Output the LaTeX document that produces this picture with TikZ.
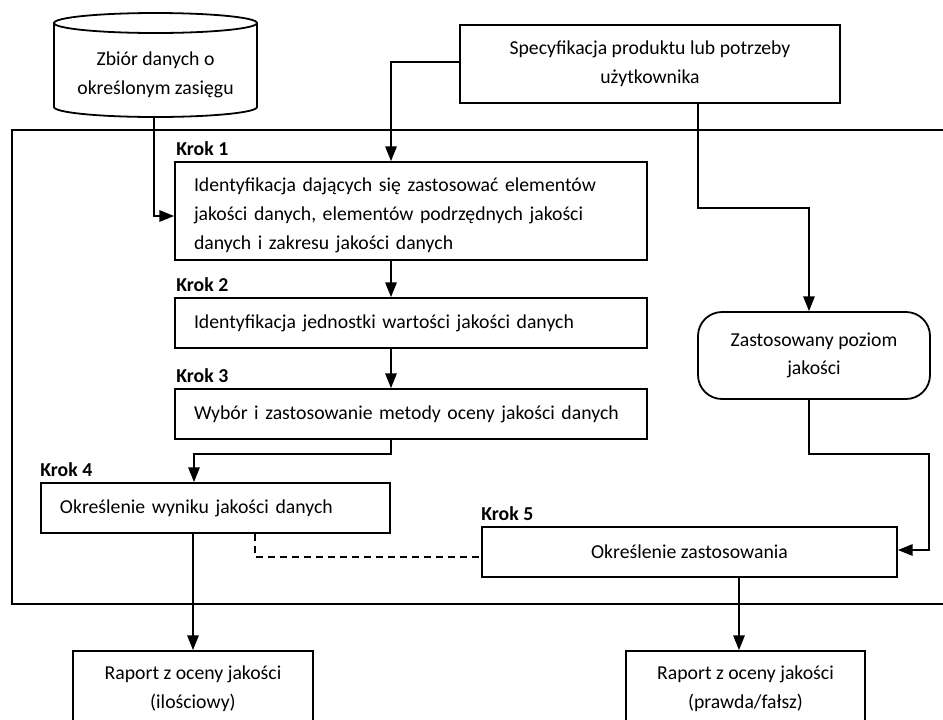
\documentclass[tikz,border=0pt]{standalone}
\usepackage{fontspec}
\setmainfont{Carlito}
\usetikzlibrary{arrows.meta,calc}

\begin{document}
\begin{tikzpicture}[x=0.75pt,y=-0.75pt,
  every node/.style={font=\fontsize{14.8pt}{21.5pt}\selectfont},
  line/.style={line width=1.35pt},
  flow/.style={line, -{Triangle[length=11pt,width=8.5pt]}},
  link/.style={line, dashed, dash pattern=on 5.5pt off 3.5pt},
  box/.style={draw, line width=1.35pt, inner xsep=14.25pt, inner ysep=0pt, align=left},
  cbox/.style={draw, line width=1.35pt, inner sep=0pt, align=center},
  steplabel/.style={anchor=base west, inner sep=0pt, font=\fontsize{14.8pt}{16pt}\selectfont\bfseries}
]
% page area
\clip (0,0) rectangle (943,719);
\fill[white] (0,0) rectangle (943,719);

% outer frame of the assessment process
\draw[line] (12,130) rectangle (960,604);

% data set (cylinder)
\draw[line, fill=white] (54,23) -- (54,107) arc[start angle=180, end angle=0, x radius=101.5, y radius=10] -- (257,23);
\draw[line] (155.5,23) ellipse[x radius=101.5, y radius=10];
\node[inner sep=0pt, minimum width=153pt, minimum height=63pt, align=center] (data) at (155.5,75)
  {Zbiór danych o\\ określonym zasięgu};

% product specification
\node[cbox, minimum width=285pt, minimum height=58.5pt] (spec) at (650,64)
  {Specyfikacja produktu lub potrzeby\\ użytkownika};

% steps
\node[box, text width=325.5pt, minimum height=73.5pt] (s1) at (411,211)
  {\rule{0pt}{17pt}Identyfikacja dających się zastosować elementów\\ jakości danych, elementów podrzędnych jakości\\ danych i zakresu jakości danych};
\node[box, text width=325.5pt, minimum height=37.5pt] (s2) at (411,323)
  {Identyfikacja jednostki wartości jakości danych};
\node[box, text width=325.5pt, minimum height=37.5pt] (s3) at (411,414)
  {Wybór i zastosowanie metody oceny jakości danych};
\node[box, text width=233.25pt, minimum height=37.5pt] (s4) at (215.5,508)
  {Określenie wyniku jakości danych};
\node[cbox, minimum width=311.25pt, minimum height=37.5pt] (s5) at (689.5,552)
  {Określenie zastosowania};

\node[steplabel] (k1) at ($(s1.north west)+(2,-6)$) {Krok 1};
\node[steplabel] (k2) at ($(s2.north west)+(2,-6)$) {Krok 2};
\node[steplabel] (k3) at ($(s3.north west)+(2,-6)$) {Krok 3};
\node[steplabel] (k4) at ($(s4.north west)+(0,-6)$) {Krok 4};
\node[steplabel] (k5) at ($(s5.north west)+(0,-6)$) {Krok 5};

% conformance level
\node[cbox, rounded corners=18pt, minimum width=174pt, minimum height=65.25pt] (lvl) at (814,355.5)
  {Zastosowany poziom\\ jakości};

% reports
\node[cbox, minimum width=180pt, minimum height=57pt] (r1) at (193,689)
  {Raport z oceny jakości\\ (ilościowy)};
\node[cbox, minimum width=179.25pt, minimum height=57pt] (r2) at (745.5,689)
  {Raport z oceny jakości\\ (prawda/fałsz)};

% connector columns
\coordinate (spine) at (391,0);
\coordinate (c4) at (194,0);
\coordinate (cspec) at (698,0);
\coordinate (clvl) at (809,0);
\coordinate (cdash) at (255,0);
\coordinate (c5) at (739,0);

% connectors
\draw[flow] (154,117) |- ($(s1.west)+(0,5)$);
\draw[flow] ($(spec.west)+(0,-2)$) -| (s1.north -| spine);
\draw[flow] (spec.south -| cspec) |- ($(lvl.north -| clvl)+(0,-103)$) -- (lvl.north -| clvl);
\draw[flow] (s1.south -| spine) -- (s2.north -| spine);
\draw[flow] (s2.south -| spine) -- (s3.north -| spine);
\draw[flow] (s3.south -| spine) -- ++(0,14) -| (s4.north -| c4);
\draw[flow] (s4.south -| r1.north) -- (r1.north);
\draw[link] (s4.south -| cdash) |- ($(s5.west)+(0,5)$);
\draw[flow] (lvl.south -| clvl) -- ++(0,54) -| ($(s5.east)+(31,-2)$) -- ($(s5.east)+(0,-2)$);
\draw[flow] (s5.south -| c5) -- (r2.north -| c5);
\end{tikzpicture}
\end{document}
